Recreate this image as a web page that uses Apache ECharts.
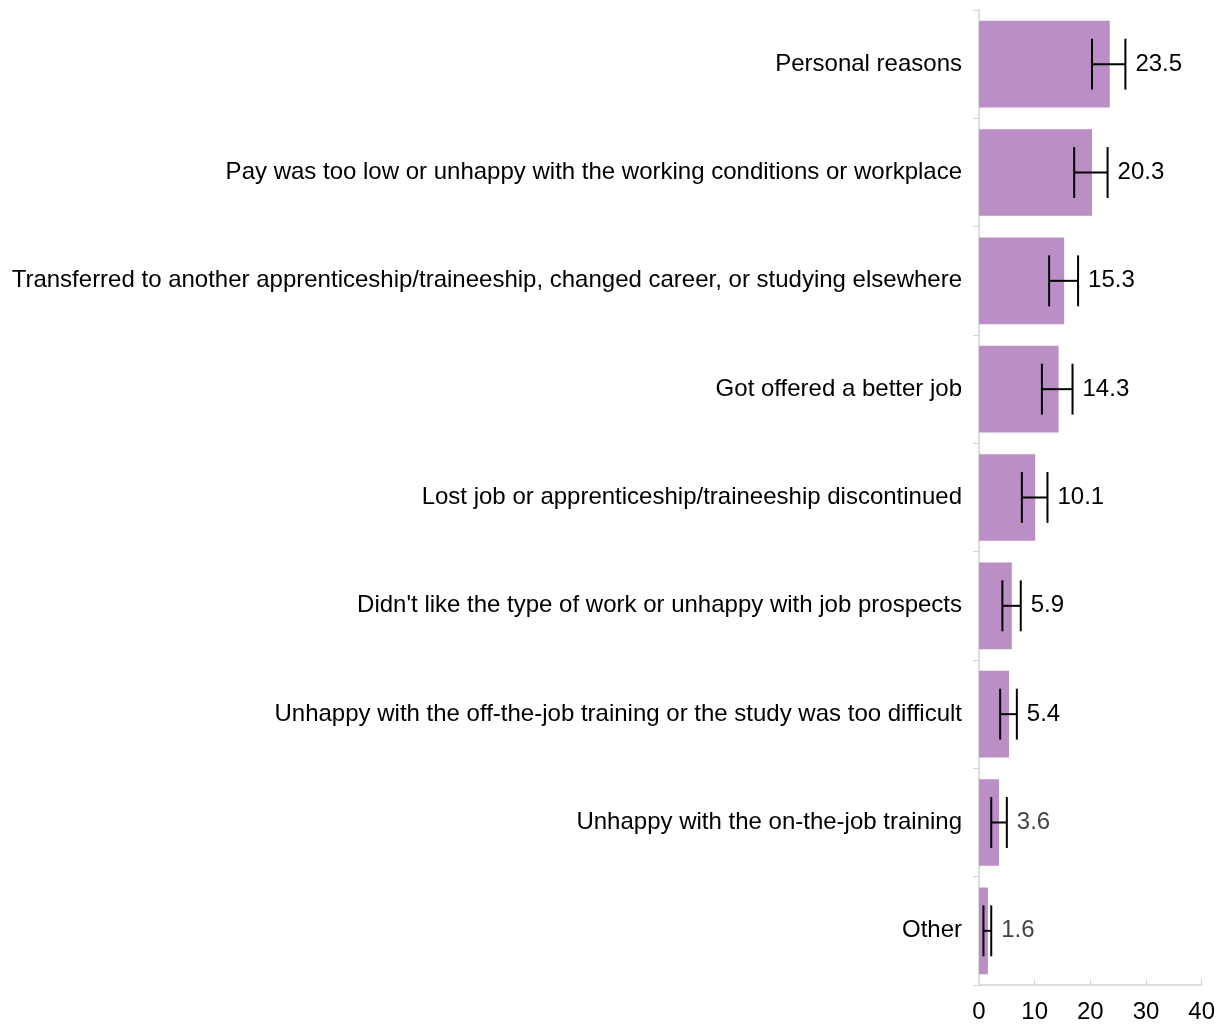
<!DOCTYPE html>
<html>
<head>
<meta charset="utf-8">
<script src="https://cdn.jsdelivr.net/npm/echarts@6/dist/echarts.min.js"></script>
<style>
  html, body { margin: 0; padding: 0; background: #fff; }
  #chart { width: 1218px; height: 1025px; }
</style>
</head>
<body>
<div id="chart"></div>
<script>
// Reasons for leaving an apprenticeship/traineeship (%), with error margins
const categories = [
  'Personal reasons',
  'Pay was too low or unhappy with the working conditions or workplace',
  'Transferred to another apprenticeship/traineeship, changed career, or studying elsewhere',
  'Got offered a better job',
  'Lost job or apprenticeship/traineeship discontinued',
  "Didn't like the type of work or unhappy with job prospects",
  'Unhappy with the off-the-job training or the study was too difficult',
  'Unhappy with the on-the-job training',
  'Other'
];
const values = [23.5, 20.3, 15.3, 14.3, 10.1, 5.9, 5.4, 3.6, 1.6];
const errLow = [20.3, 17.1, 12.6, 11.3, 7.7, 4.2, 3.8, 2.2, 0.8];
const errHigh = [26.3, 23.1, 17.8, 16.8, 12.3, 7.5, 6.8, 5.0, 2.2];
const xTicks = [0, 10, 20, 30, 40];

const labelColors = values.map(v => (v < 5 ? '#444' : '#000'));
const errData = values.map((v, i) => [i, errLow[i], errHigh[i], v]);

const chart = echarts.init(document.getElementById('chart'));
chart.setOption({
  animation: false,
  textStyle: { fontFamily: 'Liberation Sans, Arial, sans-serif' },
  grid: { left: 979, right: 14, top: 10, bottom: 40, containLabel: false },
  xAxis: {
    type: 'value',
    min: xTicks[0],
    max: xTicks[xTicks.length - 1],
    interval: 10,
    axisLine: { show: true, lineStyle: { color: '#d4d4d4', width: 1.5 } },
    axisTick: { show: true, inside: true, length: 6, lineStyle: { color: '#d4d4d4' } },
    splitLine: { show: false },
    axisLabel: { color: '#000', fontSize: 24, margin: 15 }
  },
  yAxis: {
    type: 'category',
    data: categories,
    inverse: true,
    axisLine: { show: true, lineStyle: { color: '#d4d4d4', width: 1.5 } },
    axisTick: { show: true, length: 6, alignWithLabel: false, lineStyle: { color: '#d4d4d4' } },
    axisLabel: { color: '#000', fontSize: 24, margin: 17 }
  },
  series: [
    {
      type: 'bar',
      data: values,
      barWidth: '80%',
      itemStyle: { color: '#bb8ec6' }
    },
    {
      type: 'custom',
      data: errData,
      z: 10,
      renderItem: function (params, api) {
        const i = api.value(0);
        const lo = api.coord([api.value(1), i]);
        const hi = api.coord([api.value(2), i]);
        const band = api.size([0, 1])[1];
        const half = band * 0.235;
        const style = { stroke: '#000', lineWidth: 2 };
        return {
          type: 'group',
          children: [
            { type: 'line', shape: { x1: lo[0], y1: lo[1], x2: hi[0], y2: hi[1] }, style },
            { type: 'line', shape: { x1: lo[0], y1: lo[1] - half, x2: lo[0], y2: lo[1] + half }, style },
            { type: 'line', shape: { x1: hi[0], y1: hi[1] - half, x2: hi[0], y2: hi[1] + half }, style },
            {
              type: 'text',
              style: {
                x: hi[0] + 10,
                y: hi[1],
                text: api.value(3).toFixed(1),
                fill: labelColors[params.dataIndex],
                font: '24px "Liberation Sans", Arial, sans-serif',
                verticalAlign: 'middle',
                align: 'left'
              }
            }
          ]
        };
      }
    }
  ]
});
</script>
</body>
</html>
